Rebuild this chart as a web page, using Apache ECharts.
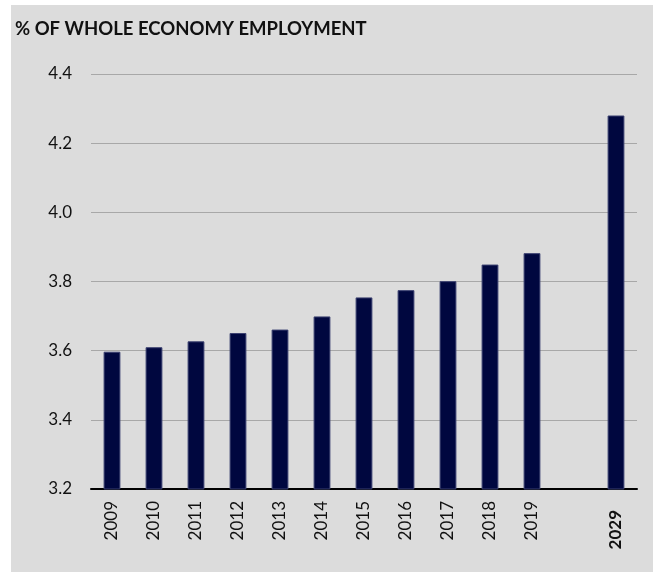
<!DOCTYPE html>
<html>
<head>
<meta charset="utf-8">
<script src="https://cdn.jsdelivr.net/npm/echarts@6/dist/echarts.min.js"></script>
<style>
  html, body { margin: 0; padding: 0; background: #ffffff; }
  #chart { position: absolute; left: 11px; top: 5px; width: 642px; height: 567px; }
</style>
</head>
<body>
<div id="chart"></div>
<script>
// Years on the category axis; the empty slot separates history from the 2029 projection
const years = ['2009', '2010', '2011', '2012', '2013', '2014', '2015', '2016', '2017', '2018', '2019', '', '2029'];
// Share of whole-economy employment (%)
const shares = [3.597, 3.610, 3.627, 3.651, 3.661, 3.699, 3.754, 3.775, 3.801, 3.849, 3.882, '-', 4.280];
const yTicks = { min: 3.2, max: 4.4, step: 0.2 };
const titleText = '% OF WHOLE ECONOMY EMPLOYMENT';

const FONT = 'Lato, "Open Sans", sans-serif';

const categoryData = years.map(y => y === '2029'
  ? { value: y, textStyle: { fontWeight: 'bold', padding: [0, 9, 0, 0] } }
  : y);

const chart = echarts.init(document.getElementById('chart'), null, { renderer: 'canvas' });
chart.setOption({
  backgroundColor: '#dcdcdc',
  animation: false,
  title: {
    text: titleText,
    left: 4,
    top: 15,
    padding: 0,
    textStyle: { fontFamily: FONT, fontSize: 18.5, fontWeight: 'bold', color: '#111111' }
  },
  grid: { left: 80, right: 16, top: 69, bottom: 83, containLabel: false },
  xAxis: {
    type: 'category',
    data: categoryData,
    axisTick: { show: false },
    axisLine: { lineStyle: { color: '#000000', width: 2 } },
    axisLabel: {
      rotate: 90,
      margin: 12,
      interval: 0,
      fontFamily: FONT,
      fontSize: 17,
      color: '#111111'
    }
  },
  yAxis: {
    type: 'value',
    min: yTicks.min,
    max: yTicks.max,
    interval: yTicks.step,
    axisLine: { show: false },
    axisTick: { show: false },
    splitLine: { lineStyle: { color: '#a8a8a8', width: 1 } },
    axisLabel: {
      margin: 19,
      fontFamily: FONT,
      fontSize: 17,
      color: '#111111',
      formatter: v => v.toFixed(1)
    }
  },
  series: [{
    type: 'bar',
    data: shares,
    barWidth: '40%',
    itemStyle: { color: '#00073f', borderColor: '#3b4070', borderWidth: 1 }
  }]
});
</script>
</body>
</html>
